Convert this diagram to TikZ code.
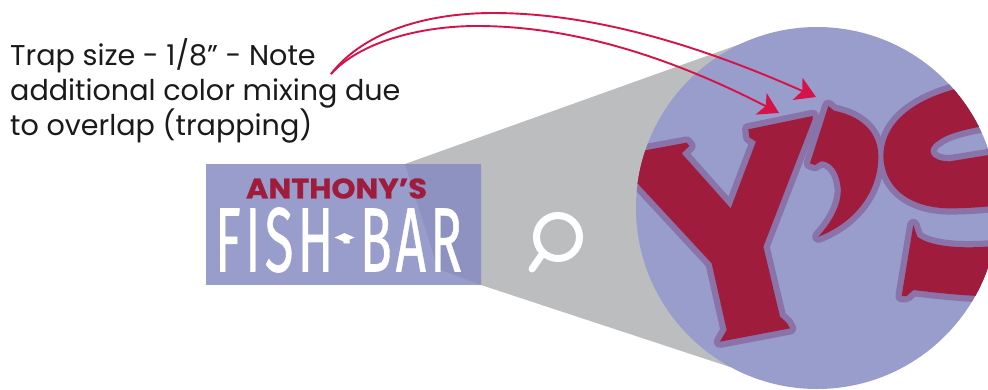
\documentclass[tikz,border=0pt]{standalone}
\usepackage{fontspec}
\setmainfont{Poppins}
\newfontfamily\logofont{Poppins}
\newfontfamily\barfont[FakeBold=0.7]{Fira Sans}
\usetikzlibrary{arrows.meta,shapes.geometric}
\definecolor{tint}{HTML}{989DCB}
\definecolor{tintdark}{HTML}{8E92C0}
\definecolor{conegray}{HTML}{BCBDBF}
\definecolor{wine}{HTML}{A01C3D}
\definecolor{trap}{HTML}{8A73A8}
\definecolor{pointer}{HTML}{D5124A}
\definecolor{ink}{HTML}{1A1A1A}
\tikzset{
  glyph/.style={draw=trap,line width=12.5pt,line join=round,fill=wine},
  glyphtop/.style={fill=wine},
  pointerline/.style={draw=pointer,line width=1.9pt,-{Stealth[length=20pt,width=24pt,inset=5pt]}},
  caption/.style={font=\fontsize{28.6}{35}\selectfont,text=ink,align=left,inner sep=0pt},
}
\newcommand{\Yglyph}{(-20,403) -- (170,368) -- (178,378) -- (155,400) -- (302,565) -- (378,365) -- (358,352) -- (355,328) -- (548,288) -- (548,298) -- (400,680) -- (450,890) -- (470,908) -- (480,925) -- (270,965) -- (290,930) -- (245,730) -- (-20,444) -- cycle}
\newcommand{\Aglyph}{(595,258) -- (612,272) .. controls (700,290) and (745,340) .. (745,410) .. controls (745,520) and (670,610) .. (565,650) .. controls (620,590) and (640,530) .. (630,490) .. controls (622,440) and (590,420) .. (570,425) -- (555,435) -- (540,430) -- cycle}
\newcommand{\Sglyph}{(1120,170) .. controls (1060,180) and (1010,195) .. (965,210) .. controls (830,250) and (760,320) .. (760,410) .. controls (765,520) and (860,565) .. (960,565) .. controls (1020,565) and (1070,560) .. (1120,555) -- (1120,398) -- (960,424) .. controls (895,424) and (885,385) .. (925,362) .. controls (960,335) and (1040,320) .. (1120,310) -- cycle}
\newcommand{\Tglyph}{(850,615) -- (862,650) .. controls (900,680) and (1000,690) .. (1120,675) -- (1120,830) .. controls (1030,830) and (930,820) .. (850,810) -- (830,828) -- (815,828) -- cycle}
\begin{document}
\begin{tikzpicture}[x=1pt,y=-1pt]
\useasboundingbox (0,0) rectangle (988,389);
% cone and label
\fill[conegray] (405,164) -- (743,43) -- (730,367) -- (481,285) -- (481,164) -- cycle;
\fill[tint] (206,164) rectangle (481,285);
\fill[tintdark] (405,164) -- (481,164) -- (481,285) -- (438,269) -- cycle;
\node[inner sep=0pt,text=wine] (anthony) at (336.5,188.5) {\resizebox{181pt}{20pt}{\logofont\bfseries\addfontfeature{FakeBold=0.8}ANTHONY’S}};
\node[inner sep=0pt,text=white] (fishbar) at (338.5,240) {\resizebox{247pt}{64pt}{\barfont\addfontfeature{LetterSpace=8}FISH\kern.17em\raisebox{.2em}{\scalebox{.4}{-}}\kern.17em BAR}};
\node[diamond,fill=white,inner sep=0pt,minimum width=20pt,minimum height=9pt,aspect=2.2] (bardot) at (344.5,237.5) {};
% magnifier
\draw[white,line width=7pt] (558,237) circle (21.5);
\draw[white,line width=7pt,line cap=round] (543,253) -- (532,269);
% circle with enlarged letters
\fill[tint] (817,208) circle (181);
\begin{scope}
\clip (817,208) circle (181);
\begin{scope}[shift={(630pt,-20pt)},x=0.33333pt,y=-0.33333pt]
\draw[glyph] \Yglyph;
\draw[glyph] \Aglyph;
\draw[glyph] \Sglyph;
\draw[glyph] \Tglyph;
\fill[glyphtop] \Yglyph;
\fill[glyphtop] \Aglyph;
\fill[glyphtop] \Sglyph;
\fill[glyphtop] \Tglyph;
\end{scope}
\end{scope}
% caption and pointers
\node[caption,anchor=north west] (note) at (10,38) {Trap size - 1/8” - Note\\additional color mixing due\\to overlap (trapping)};
\coordinate (src) at (331,74);
\coordinate (peakA) at (493,13);
\coordinate (peakB) at (477,26);
\coordinate (tipA) at (816,97);
\coordinate (tipB) at (779,113);
\draw[pointerline] (src) .. controls (365,30) and (430,13) .. (peakA) .. controls (600,13) and (710,50) .. (tipA);
\draw[pointerline] (src) .. controls (360,42) and (420,26) .. (peakB) .. controls (580,26) and (680,62) .. (tipB);
\end{tikzpicture}
\end{document}
